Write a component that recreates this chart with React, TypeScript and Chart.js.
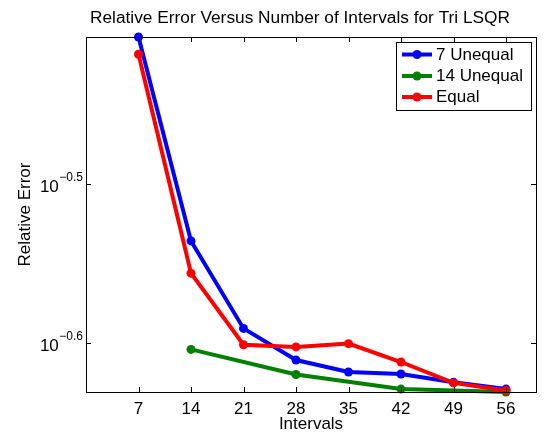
import React, { useEffect, useRef } from "react";
import { Chart, registerables } from "chart.js";

Chart.register(...registerables);

// ---- data ----
const intervals = [7, 14, 21, 28, 35, 42, 49, 56];
const unequal7 = [0.3915, 0.2913, 0.2566, 0.2451, 0.2409, 0.2402, 0.2373, 0.235];
const unequal14Intervals = [14, 28, 42, 56];
const unequal14 = [0.2489, 0.24, 0.235, 0.234];
const equal = [0.3818, 0.278, 0.2506, 0.2498, 0.251, 0.2444, 0.2371, 0.2345];
const xTicks = [7, 14, 21, 28, 35, 42, 49, 56];
const yTickExponents = [-0.6, -0.5];
const xRange = [0, 60];
const yRange = [0.234, 0.3915];
const seriesNames = ["7 Unequal", "14 Unequal", "Equal"];
const seriesColors = ["#0000ff", "#008000", "#ff0000"];
const titleText = "Relative Error Versus Number of Intervals for Tri LSQR";
const xTitle = "Intervals";
const yTitle = "Relative Error";

const FONT = '"Liberation Sans", Arial, Helvetica, sans-serif';

const matlabPlugin = {
  id: "matlabDecor",
  afterDraw(chart: any) {
    const { ctx, chartArea } = chart;
    const { left, right, top, bottom } = chartArea;
    const xs = chart.scales.x;
    const ys = chart.scales.y;
    ctx.save();
    // axes box
    ctx.strokeStyle = "#000";
    ctx.lineWidth = 1;
    ctx.strokeRect(Math.round(left) + 0.5, Math.round(top) + 0.5, Math.round(right - left), Math.round(bottom - top));
    // inward ticks
    const tl = 5;
    ctx.beginPath();
    xTicks.forEach((v) => {
      const px = Math.round(xs.getPixelForValue(v)) + 0.5;
      ctx.moveTo(px, bottom);
      ctx.lineTo(px, bottom - tl);
      ctx.moveTo(px, top);
      ctx.lineTo(px, top + tl);
    });
    yTickExponents.forEach((e) => {
      const py = Math.round(ys.getPixelForValue(Math.pow(10, e))) + 0.5;
      ctx.moveTo(left, py);
      ctx.lineTo(left + tl, py);
      ctx.moveTo(right, py);
      ctx.lineTo(right - tl, py);
    });
    ctx.stroke();

    // y tick labels with superscripts
    ctx.fillStyle = "#000";
    ctx.textBaseline = "alphabetic";
    ctx.textAlign = "left";
    yTickExponents.forEach((e) => {
      const py = ys.getPixelForValue(Math.pow(10, e));
      const base = "10";
      const exp = "\u2212" + Math.abs(e).toString();
      ctx.font = `17px ${FONT}`;
      const wb = ctx.measureText(base).width;
      ctx.font = `12px ${FONT}`;
      const we = ctx.measureText(exp).width;
      const xr = left - 3;
      ctx.fillText(exp, xr - we, py - 3.5);
      ctx.font = `17px ${FONT}`;
      ctx.fillText(base, xr - we - wb - 0.5, py + 7.5);
    });

    // title
    ctx.font = `17.3px ${FONT}`;
    ctx.textAlign = "center";
    ctx.fillText(titleText, 300, 23);

    // legend
    const lx = 396.5, ly = 42.5, lw = 135, lh = 68;
    ctx.fillStyle = "#fff";
    ctx.fillRect(lx, ly, lw, lh);
    ctx.strokeStyle = "#000";
    ctx.lineWidth = 1;
    ctx.strokeRect(lx, ly, lw, lh);
    const rows = [54.5, 76, 97];
    seriesNames.forEach((name, i) => {
      const ry = rows[i];
      ctx.strokeStyle = seriesColors[i];
      ctx.lineWidth = 4;
      ctx.beginPath();
      ctx.moveTo(402, ry);
      ctx.lineTo(432, ry);
      ctx.stroke();
      ctx.fillStyle = seriesColors[i];
      ctx.beginPath();
      ctx.arc(417, ry, 4.5, 0, Math.PI * 2);
      ctx.fill();
      ctx.fillStyle = "#000";
      ctx.font = `17px ${FONT}`;
      ctx.textAlign = "left";
      ctx.textBaseline = "middle";
      ctx.fillText(name, 436, ry + 0.5);
    });
    ctx.restore();
  },
};

export default function App() {
  const ref = useRef<HTMLCanvasElement | null>(null);
  useEffect(() => {
    document.body.style.margin = "0";
    const canvas = ref.current;
    if (!canvas) return;
    const ds = (label: string, xsArr: number[], ysArr: number[], color: string, order: number) => ({
      label,
      data: xsArr.map((x, i) => ({ x, y: ysArr[i] })),
      borderColor: color,
      backgroundColor: color,
      borderWidth: 4,
      pointRadius: 4.5,
      pointBorderWidth: 0,
      pointBackgroundColor: color,
      pointHoverRadius: 4.5,
      tension: 0,
      clip: false as any,
      order,
    });
    const chart = new Chart(canvas, {
      type: "line",
      data: {
        datasets: [
          ds(seriesNames[0], intervals, unequal7, seriesColors[0], 2),
          ds(seriesNames[1], unequal14Intervals, unequal14, seriesColors[1], 1),
          ds(seriesNames[2], intervals, equal, seriesColors[2], 0),
        ],
      },
      options: {
        animation: false,
        responsive: false,
        devicePixelRatio: 1,
        events: [],
        layout: { padding: { top: 37, right: 11, left: 0, bottom: 0 } },
        plugins: {
          legend: { display: false },
          title: { display: false },
          tooltip: { enabled: false },
        },
        scales: {
          x: {
            type: "linear",
            min: xRange[0],
            max: xRange[1],
            grid: { display: false },
            border: { display: false },
            afterBuildTicks: (s: any) => {
              s.ticks = xTicks.map((v) => ({ value: v }));
            },
            afterFit: (s: any) => {
              s.height = 45;
            },
            ticks: {
              autoSkip: false,
              maxRotation: 0,
              padding: -1,
              color: "#000",
              font: { family: FONT, size: 17 },
              callback: (v: any) => String(v),
            },
            title: {
              display: true,
              text: xTitle,
              color: "#000",
              font: { family: FONT, size: 17 },
              padding: { top: 0, bottom: 2 },
            },
          },
          y: {
            type: "logarithmic",
            min: yRange[0],
            max: yRange[1],
            grid: { display: false },
            border: { display: false },
            afterBuildTicks: (s: any) => {
              s.ticks = yTickExponents.map((e) => ({ value: Math.pow(10, e) }));
            },
            afterFit: (s: any) => {
              s.width = 86;
            },
            ticks: { display: false },
            title: {
              display: true,
              text: yTitle,
              color: "#000",
              font: { family: FONT, size: 17 },
              padding: { top: 15, bottom: 0 },
            },
          },
        },
      },
      plugins: [matlabPlugin],
    } as any);
    return () => chart.destroy();
  }, []);
  return (
    <div style={{ position: "absolute", left: 0, top: 0, width: 547, height: 437, background: "#fff" }}>
      <canvas ref={ref} width={547} height={437} style={{ display: "block", width: 547, height: 437 }} />
    </div>
  );
}
